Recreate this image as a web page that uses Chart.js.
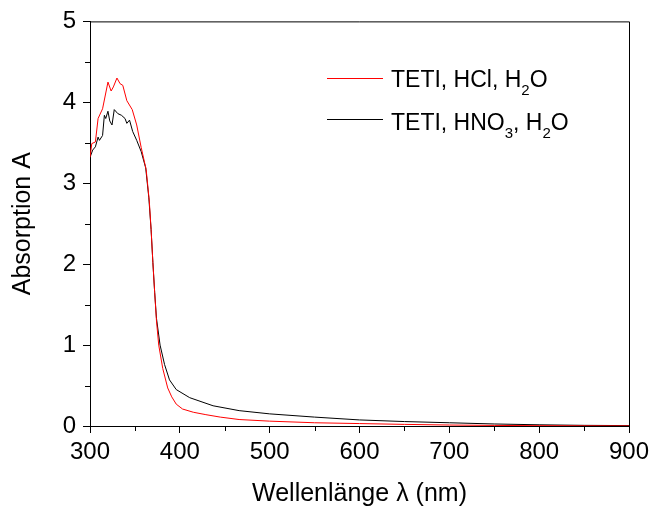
<!DOCTYPE html>
<html>
<head>
<meta charset="utf-8">
<script src="https://cdn.jsdelivr.net/npm/chart.js@4.4.0/dist/chart.umd.min.js"></script>
<style>
  html, body { margin: 0; padding: 0; background: #fff; }
  #wrap { width: 651px; height: 509px; }
</style>
</head>
<body>
<div id="wrap"><canvas id="absChart" width="651" height="509"></canvas></div>
<script>
// wavelength (nm) / absorbance
var hclNm = [300, 302, 306, 309, 314, 320, 323.5, 326, 330, 333.5, 336.5, 341, 347, 352, 357, 362.5, 366, 368, 370, 372, 374, 376.5, 381, 386.5, 391, 396, 403, 415, 429, 445, 466, 500, 550, 600, 650, 700, 750, 800, 850, 900];
var hclAbs = [3.32, 3.49, 3.51, 3.80, 3.92, 4.25, 4.14, 4.19, 4.30, 4.23, 4.21, 4.02, 3.91, 3.72, 3.44, 3.17, 2.78, 2.43, 2.02, 1.65, 1.30, 1.00, 0.71, 0.47, 0.36, 0.27, 0.21, 0.17, 0.14, 0.11, 0.08, 0.06, 0.04, 0.03, 0.02, 0.012, 0.007, 0.004, 0.002, 0.001];

var hno3Nm = [300, 303, 306, 309, 310.5, 314, 316, 317.5, 320, 322, 324.5, 327, 331, 335, 339, 341, 344, 347.5, 352, 357, 362, 365.5, 368, 370, 372, 374, 378, 383, 388.5, 396, 411, 437, 466, 500, 550, 600, 650, 700, 750, 800, 850, 900];
var hno3Abs = [3.32, 3.41, 3.45, 3.57, 3.53, 3.59, 3.84, 3.80, 3.89, 3.77, 3.72, 3.91, 3.86, 3.84, 3.80, 3.74, 3.78, 3.64, 3.53, 3.39, 3.19, 2.82, 2.43, 2.02, 1.65, 1.33, 1.00, 0.76, 0.57, 0.45, 0.35, 0.25, 0.19, 0.15, 0.11, 0.075, 0.055, 0.04, 0.025, 0.015, 0.008, 0.005];

// legend text pieces: [text, isSubscript]
var hclLabel = [['TETI, HCl, H', false], ['2', true], ['O', false]];
var hno3Label = [['TETI, HNO', false], ['3', true], [', H', false], ['2', true], ['O', false]];

var xMinorTicks = [350, 450, 550, 650, 750, 850];
var yMinorTicks = [0.5, 1.5, 2.5, 3.5, 4.5];

function toPoints(xs, ys) {
    var pts = [];
    for (var i = 0; i < xs.length; i++) pts.push({ x: xs[i], y: ys[i] });
    return pts;
}

var fontFamily = '"Liberation Sans", Arial, sans-serif';

// frame, minor ticks and legend with subscripts
var framePlugin = {
    id: 'frame',
    afterDraw: function (chart) {
        var ctx = chart.ctx;
        var a = chart.chartArea;
        var xs = chart.scales.x, ys = chart.scales.y;
        ctx.save();
        ctx.strokeStyle = '#000';
        ctx.lineWidth = 1;
        ctx.beginPath();
        ctx.moveTo(a.left, a.top + 0.5);
        ctx.lineTo(a.right + 0.5, a.top + 0.5);
        ctx.lineTo(a.right + 0.5, a.bottom);
        ctx.stroke();

        ctx.beginPath();
        xMinorTicks.forEach(function (v) {
            var px = Math.round(xs.getPixelForValue(v)) + 0.5;
            ctx.moveTo(px, a.bottom);
            ctx.lineTo(px, a.bottom + 5);
        });
        yMinorTicks.forEach(function (v) {
            var py = Math.round(ys.getPixelForValue(v)) + 0.5;
            ctx.moveTo(a.left - 5, py);
            ctx.lineTo(a.left, py);
        });
        ctx.stroke();

        // legend
        var rows = [
            { color: '#ff0000', parts: hclLabel, y: 78.5, base: 87 },
            { color: '#000000', parts: hno3Label, y: 119.5, base: 130 }
        ];
        rows.forEach(function (r) {
            ctx.strokeStyle = r.color;
            ctx.beginPath();
            ctx.moveTo(327, r.y);
            ctx.lineTo(383, r.y);
            ctx.stroke();
            var x = 391;
            ctx.fillStyle = '#000';
            ctx.textBaseline = 'alphabetic';
            ctx.textAlign = 'left';
            r.parts.forEach(function (p) {
                ctx.font = (p[1] ? '15px ' : '23px ') + fontFamily;
                ctx.fillText(p[0], x, p[1] ? r.base + 8 : r.base);
                x += ctx.measureText(p[0]).width;
            });
        });
        ctx.restore();
    }
};

var ctx = document.getElementById('absChart').getContext('2d');
var absChart = new Chart(ctx, {
    type: 'line',
    data: {
        datasets: [{
            label: 'TETI, HCl, H\u2082O',
            data: toPoints(hclNm, hclAbs),
            borderColor: '#ff0000',
            borderWidth: 1,
            pointRadius: 0,
            tension: 0
        }, {
            label: 'TETI, HNO\u2083, H\u2082O',
            data: toPoints(hno3Nm, hno3Abs),
            borderColor: '#000000',
            borderWidth: 1,
            pointRadius: 0,
            tension: 0
        }]
    },
    options: {
        responsive: false,
        animation: false,
        layout: { padding: { top: 17, right: 22, left: 0, bottom: 0 } },
        plugins: {
            legend: { display: false },
            tooltip: { enabled: false }
        },
        scales: {
            x: {
                type: 'linear',
                min: 300,
                max: 900,
                afterFit: function (s) {
                    s.height = 83;
                    s.paddingLeft = 0;
                    s.paddingRight = 0;
                },
                ticks: {
                    stepSize: 100,
                    color: '#000',
                    padding: 5,
                    maxRotation: 0,
                    font: { family: fontFamily, size: 24 }
                },
                grid: { drawOnChartArea: false, tickLength: 7, tickColor: '#000' },
                border: { color: '#000', width: 1 },
                title: {
                    display: true,
                    text: 'Wellenlänge λ (nm)',
                    color: '#000',
                    font: { family: fontFamily, size: 25 },
                    padding: { top: 0, bottom: 0 }
                }
            },
            y: {
                min: 0,
                max: 5,
                afterFit: function (s) { s.width = 90; },
                ticks: {
                    stepSize: 1,
                    color: '#000',
                    padding: 7,
                    font: { family: fontFamily, size: 24 }
                },
                grid: { drawOnChartArea: false, tickLength: 7, tickColor: '#000' },
                border: { color: '#000', width: 1 },
                title: {
                    display: true,
                    text: 'Absorption A',
                    color: '#000',
                    font: { family: fontFamily, size: 25 },
                    padding: { top: 8, bottom: 0 }
                }
            }
        }
    },
    plugins: [framePlugin]
});
</script>
</body>
</html>
